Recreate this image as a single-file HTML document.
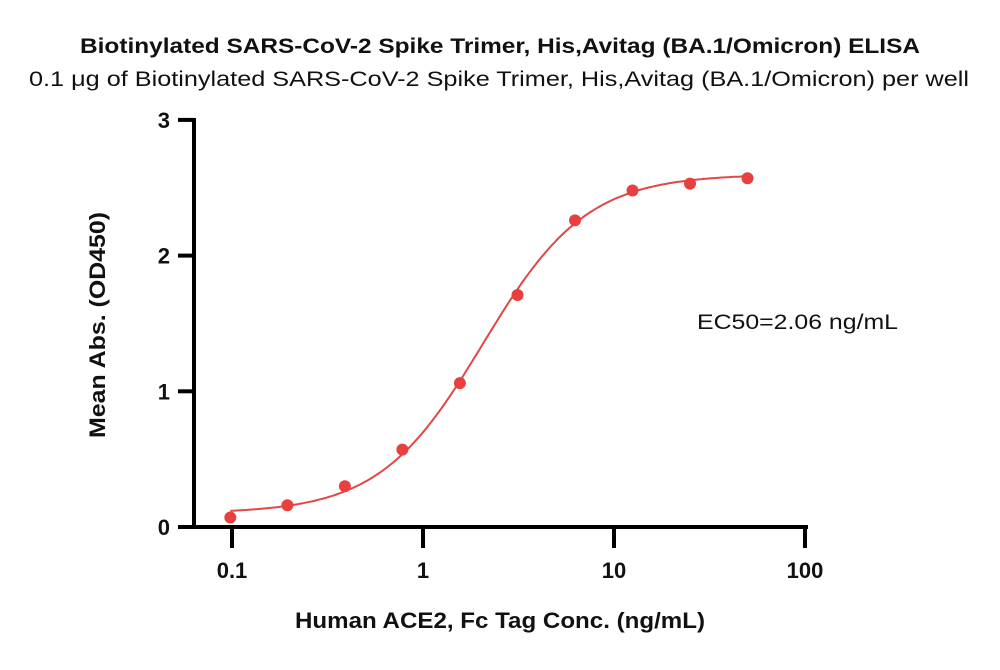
<!DOCTYPE html>
<html><head><meta charset="utf-8"><style>
body{margin:0;background:#fff;}
svg text{font-family:"Liberation Sans",sans-serif;}
</style></head><body>
<svg width="1000" height="665">
<text x="80" y="53" textLength="840" lengthAdjust="spacingAndGlyphs" font-size="21" font-weight="bold" fill="#111">Biotinylated SARS-CoV-2 Spike Trimer, His,Avitag (BA.1/Omicron) ELISA</text>
<text x="29" y="86" textLength="940" lengthAdjust="spacingAndGlyphs" font-size="21" fill="#111">0.1 μg of Biotinylated SARS-CoV-2 Spike Trimer, His,Avitag (BA.1/Omicron) per well</text>
<g id="axes"></g>
<g id="curve"></g>
<g id="pts"></g>
<text x="697" y="329" textLength="201" lengthAdjust="spacingAndGlyphs" font-size="21" fill="#111">EC50=2.06 ng/mL</text>
<text x="295" y="628" textLength="410" lengthAdjust="spacingAndGlyphs" font-size="22" font-weight="bold" fill="#111">Human ACE2, Fc Tag Conc. (ng/mL)</text>
<text transform="translate(105,325) rotate(-90)" text-anchor="middle" textLength="226" lengthAdjust="spacingAndGlyphs" font-size="22" font-weight="bold" fill="#111">Mean Abs. (OD450)</text>
</svg>
<script>
const concs=[0.098,0.195,0.39,0.78,1.56,3.125,6.25,12.5,25,50];
const od=[0.07,0.16,0.30,0.57,1.06,1.71,2.26,2.48,2.53,2.57];
const fitParams=[0.1,2.6,2.06,1.6]; // bottom, top, EC50, hill
const xTicks=[0.1,1,10,100];
const xTickLabels=["0.1","1","10","100"];
const yTicks=[0,1,2,3];
const NS="http://www.w3.org/2000/svg";
const X=v=>232+(Math.log10(v)+1)*191;
const Y=v=>527-v*135.7;
function mk(t,a,p){const e=document.createElementNS(NS,t);for(const k in a)e.setAttribute(k,a[k]);p.appendChild(e);return e;}
const ax=document.getElementById('axes');
let l=mk('line',{x1:194,y1:118,x2:194,y2:529,stroke:'#000','stroke-width':4},ax);


l=mk('line',{x1:178,y1:527,x2:808,y2:527,stroke:'#000','stroke-width':4},ax);


yTicks.forEach(v=>{
 const t=mk('line',{x1:178,y1:Y(v),x2:194,y2:Y(v),stroke:'#000','stroke-width':4},ax);
 
 
 const tx=mk('text',{x:170,y:Y(v)+8,'text-anchor':'end','font-size':22,'font-weight':'bold',fill:'#111'},ax);
 tx.textContent=v;
 
 
});
xTicks.forEach((v,i)=>{
 const t=mk('line',{x1:X(v),y1:527,x2:X(v),y2:548,stroke:'#000','stroke-width':4},ax);
 
 
 const tx=mk('text',{x:X(v),y:578,'text-anchor':'middle','font-size':22,'font-weight':'bold',fill:'#111'},ax);
 tx.textContent=xTickLabels[i];
 
 
});
const [b,tp,ec,h]=fitParams;
let d='';
const lo=Math.log10(concs[0]),hi=Math.log10(concs[concs.length-1]);
for(let i=0;i<=200;i++){const lx=lo+(hi-lo)*i/200;const c=Math.pow(10,lx);
 const y=b+(tp-b)/(1+Math.pow(ec/c,h));d+=(i?'L':'M')+X(c).toFixed(1)+','+Y(y).toFixed(1);}
const cp=mk('path',{d:d,fill:'none',stroke:'#e04848','stroke-width':2},document.getElementById('curve'));


const pg=document.getElementById('pts');
concs.forEach((c,i)=>{
 const p=mk('circle',{cx:X(c),cy:Y(od[i]),r:6,fill:'#e8403f'},pg);
 
 
});
</script>
</body></html>
